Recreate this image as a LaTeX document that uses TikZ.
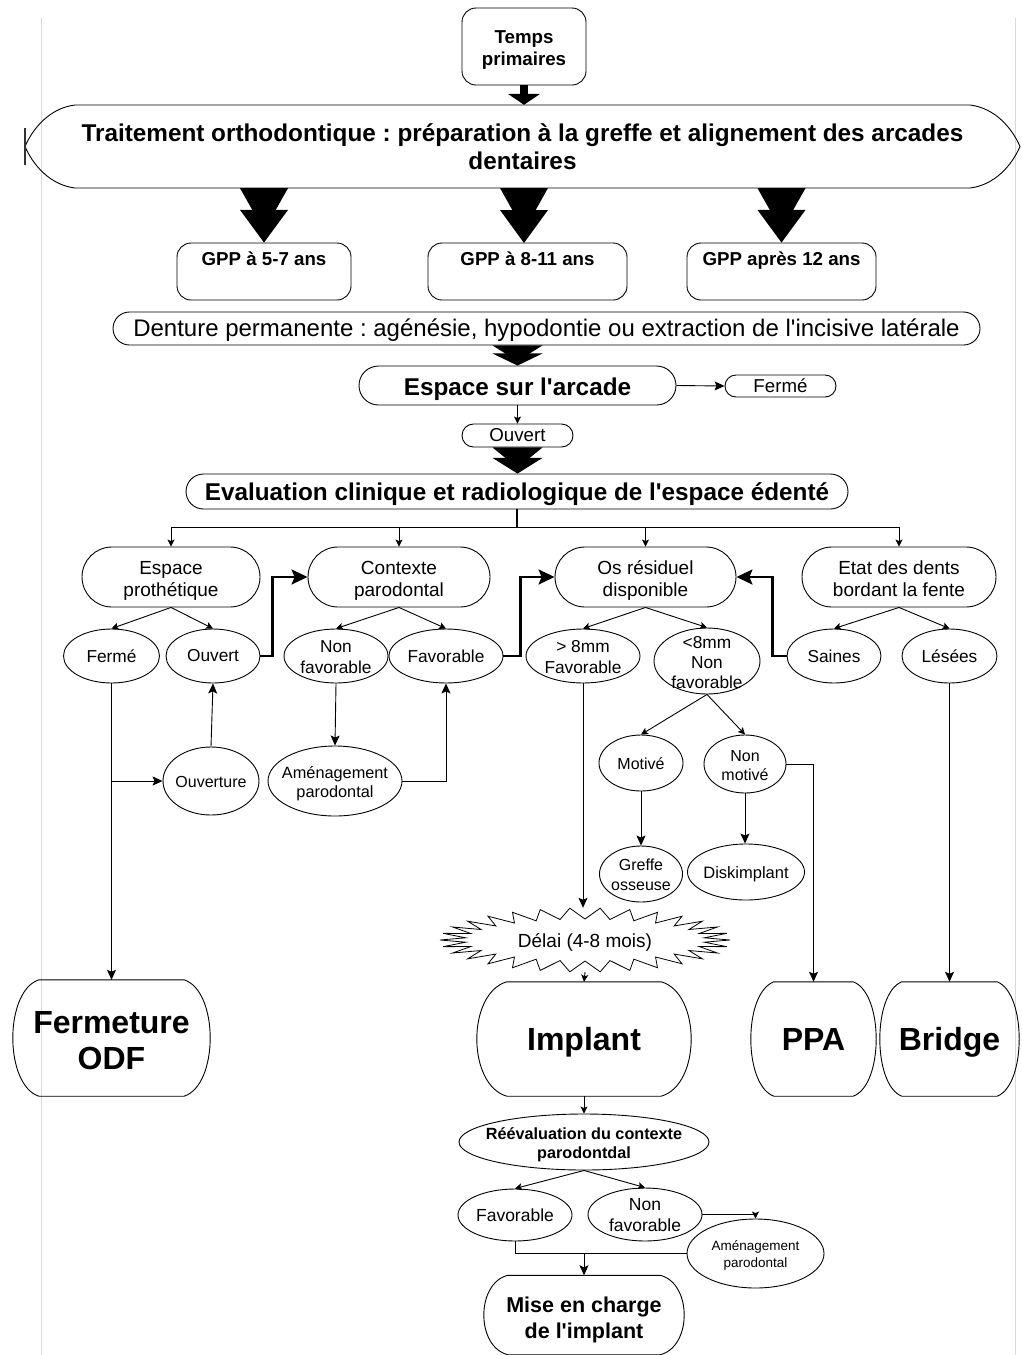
\documentclass[tikz,border=0pt]{standalone}
\usepackage{fontspec}
\setmainfont{Liberation Sans}
\frenchspacing
\usetikzlibrary{arrows.meta,shapes.geometric,shapes.misc,calc}
\newcommand\fs[2]{\fontsize{#1}{#2}\selectfont}
\newcommand\ap{\textquotesingle}
\newcommand\chev[3]{%
  \fill ($(#1)+(-#3,0)$) -- ($(#1)+(#3,0)$) -- ($(#1)!0.78!(#2)$) -- cycle;
  \fill ($(#1)!0.4!(#2)+(-#3,0)$) -- ($(#1)!0.4!(#2)+(#3,0)$) -- (#2) -- cycle;}
\newcommand\barrel[3]{%
  \draw[line width=0.9pt] ($(#1.north west)+(#2,0)$) -- ($(#1.north east)+(-#2,0)$)
    .. controls ($(#1.north east)+(#2/3,0.1*#3)$) and ($(#1.south east)+(#2/3,-0.1*#3)$) .. ($(#1.south east)+(-#2,0)$)
    -- ($(#1.south west)+(#2,0)$)
    .. controls ($(#1.south west)+(-#2/3,-0.1*#3)$) and ($(#1.north west)+(-#2/3,0.1*#3)$) .. ($(#1.north west)+(#2,0)$) -- cycle;}
\tikzset{
  nbase/.style={draw, line width=0.9pt, align=center, inner sep=2pt},
  rbox/.style={nbase, rectangle, rounded corners=14pt},
  stad/.style={nbase, rounded rectangle},
  bnode/.style={rectangle, align=center, inner sep=0pt, font=\bfseries\fs{32}{36}},
  gpp/.style={rbox, minimum height=57, font=\bfseries\fs{18.7}{22}, text height=18pt, text depth=31pt, inner ysep=4pt},
  ell/.style 2 args={ellipse, draw, line width=0.9pt, minimum width=#1, minimum height=#2, inner sep=0pt},
  lab/.style={align=center, inner sep=0pt, font=\fs{17.3}{21}},
  ln/.style={line width=0.9pt},
  arr/.style={line width=0.9pt, -{Stealth[length=10pt,width=9pt,inset=2pt]}},
  sarr/.style={line width=0.9pt, -{Stealth[length=7pt,width=7pt,inset=1.5pt]}},
  barr/.style={line width=2.2pt, -{Stealth[length=16pt,width=15pt,inset=3pt]}},
  lv2/.style={stad, minimum height=60, font=\fs{19}{22}, text height=40pt, text depth=2pt, inner ysep=0pt},
}
\begin{document}
\begin{tikzpicture}[x=1pt,y=-1pt]
\useasboundingbox (0,0) rectangle (1021,1355);
% page edges
\draw[gray!30, line width=0.8pt] (41,18) -- (41,1355) (1015,18) -- (1015,1355);

% top
\node[rbox, minimum width=124, minimum height=77, font=\bfseries\fs{18.7}{22}, text height=38pt, text depth=0pt] (tp) at (524,46.5) {Temps\\primaires};
\node[align=center, minimum width=995, minimum height=83, inner sep=0pt, font=\bfseries\fs{24.3}{28}] (tr) at (522.5,146.5)
  {Traitement orthodontique : préparation à la greffe et alignement des arcades\\dentaires};
\draw[line width=0.9pt] (75,105) -- (970,105) .. controls (995,108) and (1012,128) .. (1020,146.5)
  .. controls (1012,165) and (995,185) .. (970,188) -- (75,188)
  .. controls (50,185) and (33,165) .. (25,146.5) .. controls (33,128) and (50,108) .. (75,105);
\draw[line width=1.2pt, black!80] (25,128) -- (25,165);
\draw[line width=8pt, -{Triangle[length=11pt,width=32pt]}] (tp.south) -- (tp.south |- tr.north);

% GPP
\node[gpp, minimum width=174] (g1) at (264,271.5) {GPP à 5-7 ans};
\node[gpp, minimum width=199] (g2) at (527.5,271.5) {GPP à 8-11 ans};
\node[gpp, minimum width=189] (g3) at (781.5,271.5) {GPP après 12 ans};
\coordinate (c1) at (g1.north |- tr.south);
\coordinate (c2) at (524,188);
\coordinate (c2b) at (524,243);
\coordinate (c3) at (g3.north |- tr.south);
\chev{c1}{g1.north}{24}
\chev{c2}{c2b}{24}
\chev{c3}{g3.north}{24}

% Denture / espace
\node[stad, minimum width=871, minimum height=33, font=\fs{24}{28}, text height=19.5pt, text depth=3pt, inner ysep=0pt] (den) at (546.5,328.5)
  {Denture permanente : agénésie, hypodontie ou extraction de l\ap incisive latérale};
\node[stad, minimum width=321, minimum height=39, font=\bfseries\fs{24.3}{28}, text height=21pt, text depth=1pt, inner ysep=0pt] (esa) at (517.5,385.5) {Espace sur l\ap arcade};
\node[stad, minimum width=115, minimum height=22, font=\fs{18.7}{22}, inner ysep=0pt] (fs1) at (780.5,386) {Fermé};
\node[stad, minimum width=115, minimum height=23, font=\fs{18.7}{22}, inner ysep=0pt] (os1) at (517.5,435.5) {Ouvert};
\node[stad, minimum width=666, minimum height=35, font=\bfseries\fs{24.3}{28}, text height=19.5pt, text depth=2.5pt, inner ysep=0pt] (ev) at (517,491.5)
  {Evaluation clinique et radiologique de l\ap espace édenté};
\coordinate (c4) at (esa.north |- den.south);
\chev{c4}{esa.north}{25}
\coordinate (c5) at (os1.south |- ev.north);
\chev{os1.south}{c5}{25}
\draw[arr] (esa.east) -- (fs1.west);
\draw[sarr] (esa.south) -- (os1.north);

% level 2
\node[lv2, minimum width=182] (ep) at (171,577) {Espace\\prothétique};
\node[lv2, minimum width=186] (cp) at (399,577) {Contexte\\parodontal};
\node[lv2, minimum width=185] (os) at (645.5,577) {Os résiduel\\disponible};
\node[lv2, minimum width=198] (ed) at (899,577) {Etat des dents\\bordant la fente};
\coordinate (bus) at (517,527);
\draw[line width=1.6pt] (ev.south) -- (bus);
\draw[ln] (ep.north |- bus) -- (ed.north |- bus);
\draw[sarr] (ep.north |- bus) -- (ep.north);
\draw[sarr] (cp.north |- bus) -- (cp.north);
\draw[sarr] (os.north |- bus) -- (os.north);
\draw[sarr] (ed.north |- bus) -- (ed.north);

% level 3
\node[ell={96}{54}] (f1) at (111.5,656) {};   \node[lab] (f1t) at (f1) {Fermé};
\node[ell={94}{54}] (o1) at (213,656) {};     \node[lab] (o1t) at (o1) {Ouvert};
\node[ell={104}{54}] (nf) at (336,656) {};    \node[lab] (nft) at (336,657) {Non\\favorable};
\node[ell={114}{54}] (fv) at (446,656) {};    \node[lab] (fvt) at (fv) {Favorable};
\node[ell={114}{54}] (g8) at (583,656) {};    \node[lab] (g8t) at (583,657) {> 8mm\\Favorable};
\node[ell={106}{66}] (l8) at (707,661) {};    \node[lab, font=\fs{17.3}{20}] (l8t) at (707,663) {<8mm\\Non\\favorable};
\node[ell={94}{54}] (sa) at (834,656) {};     \node[lab] (sat) at (sa) {Saines};
\node[ell={95}{54}] (le) at (949.5,656) {};   \node[lab] (let) at (le) {Lésées};
\draw[sarr] (ep.south) -- (f1.north);
\draw[sarr] (ep.south) -- (o1.north);
\draw[sarr] (cp.south) -- (nf.north);
\draw[sarr] (cp.south) -- (fv.north);
\draw[sarr] (os.south) -- (g8.north);
\draw[sarr] (os.south) -- (l8.north);
\draw[sarr] (ed.south) -- (sa.north);
\draw[sarr] (ed.south) -- (le.north);
\draw[barr] (o1.east) -- ++(12,0) |- (cp.west);
\draw[barr] (fv.east) -- ++(17,0) |- (os.west);
\draw[barr] (sa.west) -- ++(-14,0) |- (os.east);

% level 4
\node[ell={96}{68}] (ouv) at (211,781) {};    \node[lab, font=\fs{16}{19}] (ouvt) at (211,782) {Ouverture};
\node[ell={134}{70}] (am) at (335,781) {};    \node[lab, font=\fs{16.3}{19}] (amt) at (335,784) {Aménagement\\parodontal};
\node[ell={84}{56}] (mo) at (641,763) {};     \node[lab, font=\fs{16}{19}] (mot) at (641,764) {Motivé};
\node[ell={82}{58}] (nm) at (745,764) {};     \node[lab, font=\fs{16}{19}] (nmt) at (745,766) {Non\\motivé};
\node[ell={83}{56}] (gr) at (641,874) {};     \node[lab, font=\fs{16}{20}] (grt) at (641,875) {Greffe\\osseuse};
\node[ell={117}{56}] (dk) at (746,872) {};    \node[lab, font=\fs{16.5}{20}] (dkt) at (746,874) {Diskimplant};
\draw[arr] (ouv.north) -- (o1.south);
\draw[arr] (nf.south) -- (am.north);
\draw[arr] (am.east) -| (fv.south);
\draw[sarr] (l8.south) -- (mo.north);
\draw[sarr] (l8.south) -- (nm.north);
\draw[arr] (mo.south) -- (gr.north);
\draw[arr] (nm.south) -- (nm.south |- dk.north);

% delay (starburst)
\node[ellipse, minimum width=290, minimum height=64, inner sep=0pt] (dl) at (585,940) {};
\node[lab, font=\fs{19}{22}] (dlt) at (585,942) {Délai (4-8 mois)};
\draw[line width=0.8pt] (730,940) \foreach \i in {0,...,29} {
   -- ({585+145*cos(\i*12)},{940+32*sin(\i*12)}) -- ({585+120*cos(\i*12+6)},{940+21*sin(\i*12+6)}) } -- cycle;

% terminals
\node[bnode, minimum width=197, minimum height=116, text height=63pt, text depth=0pt] (fodf) at (111.5,1038) {Fermeture\\ODF};
\node[bnode, minimum width=214, minimum height=114, text height=26pt, text depth=3pt] (imp) at (584,1039) {Implant};
\node[bnode, minimum width=125, minimum height=114, text height=26pt, text depth=3pt] (ppa) at (813.5,1039) {PPA};
\node[bnode, minimum width=139, minimum height=114, text height=26pt, text depth=3pt] (br) at (949.5,1039) {Bridge};
\barrel{fodf}{26}{116}
\barrel{imp}{30}{114}
\barrel{ppa}{23}{114}
\barrel{br}{22}{114}
\draw[arr] (f1.south) -- (fodf.north);
\draw[arr] (f1.south |- ouv.west) -- (ouv.west);
\draw[arr] (g8.south) -- (g8.south |- dl.north);
\draw[arr] (nm.east) -| (ppa.north);
\draw[arr] (le.south) -- (br.north);
\draw[sarr] (dl.south) -- (imp.north);

% bottom
\node[ell={250}{56}] (re) at (584,1142) {};   \node[lab, font=\bfseries\fs{16.2}{19}] (ret) at (584,1145) {Réévaluation du contexte\\parodontdal};
\node[ell={114}{52}] (fav3) at (515,1215) {}; \node[lab, font=\fs{17.5}{21}] (fav3t) at (fav3) {Favorable};
\node[ell={114}{53}] (nf3) at (645,1214.5) {}; \node[lab, font=\fs{17.5}{21}] (nf3t) at (645,1215.5) {Non\\favorable};
\node[ell={137}{69}] (am3) at (755.5,1253.5) {}; \node[lab, font=\fs{13.5}{17}] (am3t) at (755.5,1255.5) {Aménagement\\parodontal};
\node[bnode, minimum width=200, minimum height=79, font=\bfseries\fs{21.5}{26}, text height=46pt, text depth=0pt] (mise) at (584,1315) {Mise en charge\\de l\ap implant};
\barrel{mise}{24}{79}
\draw[sarr] (imp.south) -- (re.north);
\draw[sarr] (re.south) -- (fav3.north);
\draw[sarr] (re.south) -- (nf3.north);
\draw[sarr] (nf3.east) -| (am3.north);
\draw[ln] (fav3.south) |- (am3.west);
\coordinate (jn) at (mise.north |- am3.west);
\draw[arr] (jn) -- (mise.north);
\end{tikzpicture}
\end{document}
